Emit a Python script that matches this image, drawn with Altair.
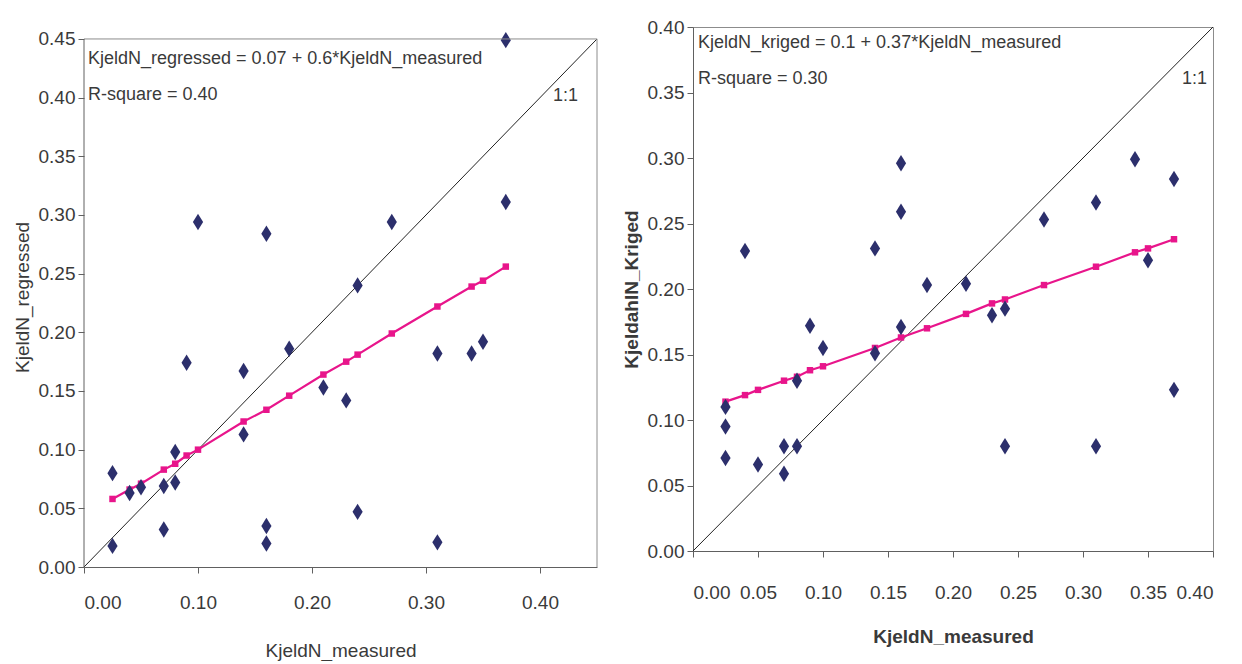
import altair as alt
import pandas as pd

FONT = "Liberation Sans, Arial, sans-serif"
NAVY = "#2c2f6c"
PINK = "#e8158b"
TXT = "#3a3a3a"
AX = "#606060"
FRAME = "#8c8c8c"

# ---------------- left panel data ----------------
left_measured = [0.025, 0.025, 0.04, 0.05, 0.07, 0.07, 0.08, 0.08, 0.09, 0.10,
                 0.14, 0.14, 0.16, 0.16, 0.16, 0.18, 0.21, 0.23, 0.24, 0.24,
                 0.27, 0.31, 0.31, 0.34, 0.35, 0.37, 0.37]
left_regressed = [0.080, 0.018, 0.063, 0.068, 0.069, 0.032, 0.098, 0.072, 0.174, 0.294,
                  0.167, 0.113, 0.284, 0.035, 0.020, 0.186, 0.153, 0.142, 0.240, 0.047,
                  0.294, 0.182, 0.021, 0.182, 0.192, 0.449, 0.311]
fit_measured = [0.025, 0.04, 0.05, 0.07, 0.08, 0.09, 0.10, 0.14, 0.16, 0.18,
                0.21, 0.23, 0.24, 0.27, 0.31, 0.34, 0.35, 0.37]
left_fit = [0.058, 0.066, 0.071, 0.083, 0.088, 0.095, 0.100, 0.124, 0.134, 0.146,
            0.164, 0.175, 0.181, 0.199, 0.222, 0.239, 0.244, 0.256]
left_diag = [0.0, 0.45]
left_frame = 0.45          # axis maximum drawn as the plot frame
left_ymax = 0.4602         # scale top (leaves room above the frame)
left_xticks = [0.0, 0.1, 0.2, 0.3, 0.4]
left_yticks = [0.0, 0.05, 0.10, 0.15, 0.20, 0.25, 0.30, 0.35, 0.40, 0.45]
left_notes = ["KjeldN_regressed = 0.07 + 0.6*KjeldN_measured", "R-square = 0.40", "1:1"]

# ---------------- right panel data ----------------
right_measured = [0.025, 0.025, 0.025, 0.04, 0.05, 0.07, 0.07, 0.08, 0.08, 0.09,
                  0.10, 0.14, 0.14, 0.16, 0.16, 0.16, 0.18, 0.21, 0.23, 0.24,
                  0.24, 0.27, 0.31, 0.31, 0.34, 0.35, 0.37, 0.37]
right_kriged = [0.110, 0.095, 0.071, 0.229, 0.066, 0.080, 0.059, 0.130, 0.080, 0.172,
                0.155, 0.231, 0.151, 0.296, 0.259, 0.171, 0.203, 0.204, 0.180, 0.185,
                0.080, 0.253, 0.266, 0.080, 0.299, 0.222, 0.284, 0.123]
right_fit = [0.114, 0.119, 0.123, 0.130, 0.133, 0.138, 0.141, 0.155, 0.163, 0.170,
             0.181, 0.189, 0.192, 0.203, 0.217, 0.228, 0.231, 0.238]
right_diag = [0.0, 0.40]
right_xticks = [0.0, 0.05, 0.10, 0.15, 0.20, 0.25, 0.30, 0.35, 0.40]
right_yticks = [0.0, 0.05, 0.10, 0.15, 0.20, 0.25, 0.30, 0.35, 0.40]
right_notes = ["KjeldN_kriged = 0.1 + 0.37*KjeldN_measured", "R-square = 0.30", "1:1"]

DIAMOND = "M0,-1L0.62,0L0,1L-0.62,0Z"
LAB = 19
TTL = 19
NOTE = 18


def base_layers(mx, my, fity, diag, xs, ys, xax, yax, notes, note_pos):
    pts = pd.DataFrame({"x": mx, "y": my})
    fit = pd.DataFrame({"x": fit_measured, "y": fity})
    dg = pd.DataFrame({"x": diag, "y": diag})

    diag_line = alt.Chart(dg).mark_line(color="#222222", strokeWidth=1).encode(
        x=alt.X("x:Q", scale=xs, axis=xax),
        y=alt.Y("y:Q", scale=ys, axis=yax))
    fit_line = alt.Chart(fit).mark_line(color=PINK, strokeWidth=2.2).encode(
        x=alt.X("x:Q", scale=xs), y=alt.Y("y:Q", scale=ys))
    fit_pts = alt.Chart(fit).mark_point(shape="square", filled=True, color=PINK,
                                        size=42, opacity=1).encode(
        x=alt.X("x:Q", scale=xs), y=alt.Y("y:Q", scale=ys))
    dots = alt.Chart(pts).mark_point(shape=DIAMOND, filled=True, color=NAVY,
                                     size=270, opacity=1).encode(
        x=alt.X("x:Q", scale=xs), y=alt.Y("y:Q", scale=ys))

    texts = []
    for (tx, ty), note, al in zip(note_pos, notes, ["left", "left", "right"]):
        texts.append(alt.Chart(pd.DataFrame({"t": [note]})).mark_text(
            align=al, baseline="middle", font=FONT, fontSize=NOTE, color=TXT).encode(
            x=alt.value(tx), y=alt.value(ty), text="t:N"))
    return [diag_line, fit_line, fit_pts, dots] + texts


def axes(xticks, yticks, xtitle, ytitle, bold, lab_pad, ttl_pad, ydomain=True):
    wt = "bold" if bold else "normal"
    xax = alt.Axis(values=xticks, format=".2f", grid=False, title=xtitle,
                   labelFont=FONT, labelFontSize=LAB, labelColor=TXT,
                   labelPadding=lab_pad, tickSize=6, tickColor=AX, domainColor=AX,
                   titleFont=FONT, titleFontSize=TTL, titleFontWeight=wt,
                   titleColor=TXT, titlePadding=ttl_pad)
    yax = alt.Axis(values=yticks, format=".2f", grid=False, title=ytitle,
                   labelFont=FONT, labelFontSize=LAB, labelColor=TXT,
                   labelPadding=3, tickSize=6, tickColor=AX, domainColor=AX,
                   domain=ydomain,
                   titleFont=FONT, titleFontSize=TTL, titleFontWeight=wt,
                   titleColor=TXT, titlePadding=8, minExtent=44, maxExtent=44)
    return xax, yax


# ---------------- left panel ----------------
lxs = alt.Scale(domain=[0, 0.45], nice=False, zero=True)
lys = alt.Scale(domain=[0, left_ymax], nice=False, zero=True)
lxax, lyax = axes(left_xticks, left_yticks, "KjeldN_measured", "KjeldN_regressed",
                  False, 20, 29, ydomain=False)
left_layers = base_layers(left_measured, left_regressed, left_fit, left_diag,
                          lxs, lys, lxax, lyax, left_notes,
                          [(4, 32), (4, 68), (494, 69)])

fr = pd.DataFrame({"zero": [0.0], "top": [left_frame]})
edge_left = alt.Chart(fr).mark_rule(color=AX, strokeWidth=1).encode(
    x=alt.X("zero:Q", scale=lxs), y=alt.Y("zero:Q", scale=lys), y2="top:Q")
edge_top = alt.Chart(fr).mark_rule(color=FRAME, strokeWidth=1).encode(
    x=alt.X("zero:Q", scale=lxs), x2="top:Q", y=alt.Y("top:Q", scale=lys))
edge_right = alt.Chart(fr).mark_rule(color=FRAME, strokeWidth=1).encode(
    x=alt.X("top:Q", scale=lxs), y=alt.Y("zero:Q", scale=lys), y2="top:Q")

left = alt.layer(*left_layers, edge_left, edge_top, edge_right).properties(
    width=513, height=540, view=alt.ViewConfig(stroke="transparent"))

# ---------------- right panel ----------------
rxs = alt.Scale(domain=[0, 0.40], nice=False, zero=True)
rys = alt.Scale(domain=[0, 0.40], nice=False, zero=True)
rxax, ryax = axes(right_xticks, right_yticks, "KjeldN_measured", "KjeldahlN_Kriged",
                  True, 26, 25)
right = alt.layer(*base_layers(right_measured, right_kriged, right_fit, right_diag,
                               rxs, rys, rxax, ryax, right_notes,
                               [(5, 16), (5, 52), (514, 52)])).properties(
    width=520, height=524, view=alt.ViewConfig(stroke=FRAME))

chart = alt.hconcat(left, right, spacing=21).properties(
    padding={"left": 4, "top": 9, "right": 0, "bottom": 0}
).configure_view(stroke=FRAME, strokeWidth=1).configure(background="white")

chart.save("out.html", embed_options={"renderer": "svg", "actions": False})
